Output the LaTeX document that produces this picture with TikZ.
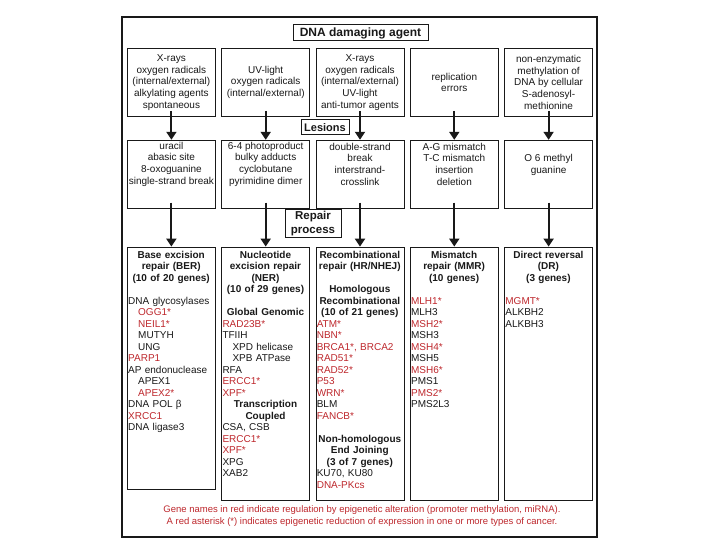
\documentclass[tikz,border=0pt]{standalone}
\usepackage{fontspec}
\setmainfont{Liberation Sans}
\usetikzlibrary{arrows.meta,positioning}
\definecolor{gred}{RGB}{190,40,45}
\definecolor{ink}{RGB}{25,25,25}
\newcommand{\epi}[1]{\textcolor{gred}{#1}}
\newcommand{\gind}{\hspace*{10pt}}
\newcommand{\colhd}[1]{\makebox[\linewidth]{\bfseries #1}}
\tikzset{
  agt/.style={draw=ink, line width=0.8pt, rectangle, minimum width=88, minimum height=68, inner sep=1pt, align=center, font=\fontsize{10}{11.8}\selectfont, text=ink},
  lsn/.style={draw=ink, line width=0.8pt, rectangle, minimum width=88, minimum height=68, inner sep=0pt},
  lsntxt/.style={align=center, inner sep=0pt, font=\fontsize{10}{11.8}\selectfont, text=ink},
  rep/.style={draw=ink, line width=0.8pt, rectangle, minimum width=88, minimum height=253, inner sep=0pt},
  reptxt/.style={anchor=north west, text width=86pt, inner sep=1pt, align=left, font=\fontsize{10}{11.5}\selectfont, text=ink},
  tag/.style={draw=ink, line width=1pt, rectangle, inner sep=1pt, align=center, font=\bfseries\fontsize{11.5}{13.5}\selectfont, text=ink},
  arr/.style={-{Triangle[width=10pt,length=8pt]}, line width=1.9pt, draw=ink, shorten <=-6pt},
}
\begin{document}
\begin{tikzpicture}[x=1pt, y=-1pt, node distance=5.5pt]
\fill[white] (0,0) rectangle (720,540);
\useasboundingbox (0,0) rectangle (720,540);
\draw[ink, line width=1.3pt] (122,17) rectangle (597,537);

\node[tag, minimum width=135, minimum height=16, font=\bfseries\fontsize{12}{14}\selectfont] (agent) at (360.5,33) {DNA damaging agent};

% damaging agents
\node[agt, anchor=north west] (agt1) at (127,48) {X-rays\\oxygen radicals\\(internal/external)\\alkylating agents\\spontaneous};
\node[agt, right=of agt1] (agt2) {UV-light\\oxygen radicals\\(internal/external)};
\node[agt, right=of agt2] (agt3) {X-rays\\oxygen radicals\\(internal/external)\\UV-light\\anti-tumor agents};
\node[agt, right=of agt3] (agt4) {replication\\errors};
\node[agt, right=of agt4] (agt5) {non-enzymatic\\methylation of\\DNA by cellular\\S-adenosyl-\\methionine};

\node[tag, minimum width=48, minimum height=15, font=\bfseries\fontsize{11}{13}\selectfont] (lesion) at (325,127.5) {Lesions};

% lesions
\node[lsn, below=23pt of agt1] (lsn1) {};
\node[lsn, below=23pt of agt2] (lsn2) {};
\node[lsn, below=23pt of agt3] (lsn3) {};
\node[lsn, below=23pt of agt4] (lsn4) {};
\node[lsn, below=23pt of agt5] (lsn5) {};
\node[lsntxt] (lsn1t) at ([yshift=10pt]lsn1.center) {uracil\\abasic site\\8-oxoguanine\\single-strand break};
\node[lsntxt] (lsn2t) at ([yshift=10pt]lsn2.center) {6-4 photoproduct\\bulky adducts\\cyclobutane\\pyrimidine dimer};
\node[lsntxt] (lsn3t) at ([yshift=10pt]lsn3.center) {double-strand\\break\\interstrand-\\crosslink};
\node[lsntxt] (lsn4t) at ([yshift=10pt]lsn4.center) {A-G mismatch\\T-C mismatch\\insertion\\deletion};
\node[lsntxt] (lsn5t) at ([yshift=9pt]lsn5.center) {O 6 methyl\\guanine};

\node[tag, minimum width=56, minimum height=27] (repair) at (313,223.5) {Repair\\process};

% repair pathways
\node[rep, below=38pt of lsn1, minimum height=242] (rep1) {};
\node[rep, below=38pt of lsn2] (rep2) {};
\node[rep, below=38pt of lsn3] (rep3) {};
\node[rep, below=38pt of lsn4] (rep4) {};
\node[rep, below=38pt of lsn5] (rep5) {};

\node[reptxt] (rep1t) at ([yshift=-3pt]rep1.north west) {\colhd{Base excision}\\\colhd{repair (BER)}\\\colhd{(10 of 20 genes)}\\[11.5pt]
  DNA glycosylases\\\gind\epi{OGG1*}\\\gind\epi{NEIL1*}\\\gind MUTYH\\\gind UNG\\\epi{PARP1}\\AP endonuclease\\\gind APEX1\\\gind\epi{APEX2*}\\DNA POL β\\\epi{XRCC1}\\DNA ligase3};
\node[reptxt] (rep2t) at ([yshift=-3pt]rep2.north west) {\colhd{Nucleotide}\\\colhd{excision repair}\\\colhd{(NER)}\\\colhd{(10 of 29 genes)}\\[11.5pt]
  \colhd{Global Genomic}\\\epi{RAD23B*}\\TFIIH\\\gind XPD helicase\\\gind XPB ATPase\\RFA\\\epi{ERCC1*}\\\epi{XPF*}\\\colhd{Transcription}\\\colhd{Coupled}\\CSA, CSB\\\epi{ERCC1*}\\\epi{XPF*}\\XPG\\XAB2};
\node[reptxt] (rep3t) at ([yshift=-3pt]rep3.north west) {\colhd{Recombinational}\\\colhd{repair (HR/NHEJ)}\\[11.5pt]
  \colhd{Homologous}\\\colhd{Recombinational}\\\colhd{(10 of 21 genes)}\\\epi{ATM*}\\\epi{NBN*}\\\epi{BRCA1*, BRCA2}\\\epi{RAD51*}\\\epi{RAD52*}\\\epi{P53}\\\epi{WRN*}\\BLM\\\epi{FANCB*}\\[11.5pt]
  \colhd{Non-homologous}\\\colhd{End Joining}\\\colhd{(3 of 7 genes)}\\KU70, KU80\\\epi{DNA-PKcs}};
\node[reptxt] (rep4t) at ([yshift=-3pt]rep4.north west) {\colhd{Mismatch}\\\colhd{repair (MMR)}\\\colhd{(10 genes)}\\[11.5pt]
  \epi{MLH1*}\\MLH3\\\epi{MSH2*}\\MSH3\\\epi{MSH4*}\\MSH5\\\epi{MSH6*}\\PMS1\\\epi{PMS2*}\\PMS2L3};
\node[reptxt] (rep5t) at ([yshift=-3pt]rep5.north west) {\colhd{Direct reversal}\\\colhd{(DR)}\\\colhd{(3 genes)}\\[11.5pt]
  \epi{MGMT*}\\ALKBH2\\ALKBH3};

\foreach \i in {1,...,5} {
  \draw[arr] (agt\i) -- (lsn\i);
  \draw[arr] (lsn\i) -- (rep\i);
}

\node[align=center, inner sep=0pt, text=gred, font=\fontsize{9.5}{11.5}\selectfont] (note) at (362,516) {Gene names in red indicate regulation by epigenetic alteration (promoter methylation, miRNA).\\A red asterisk (*) indicates epigenetic reduction of expression in one or more types of cancer.};
\end{tikzpicture}
\end{document}
